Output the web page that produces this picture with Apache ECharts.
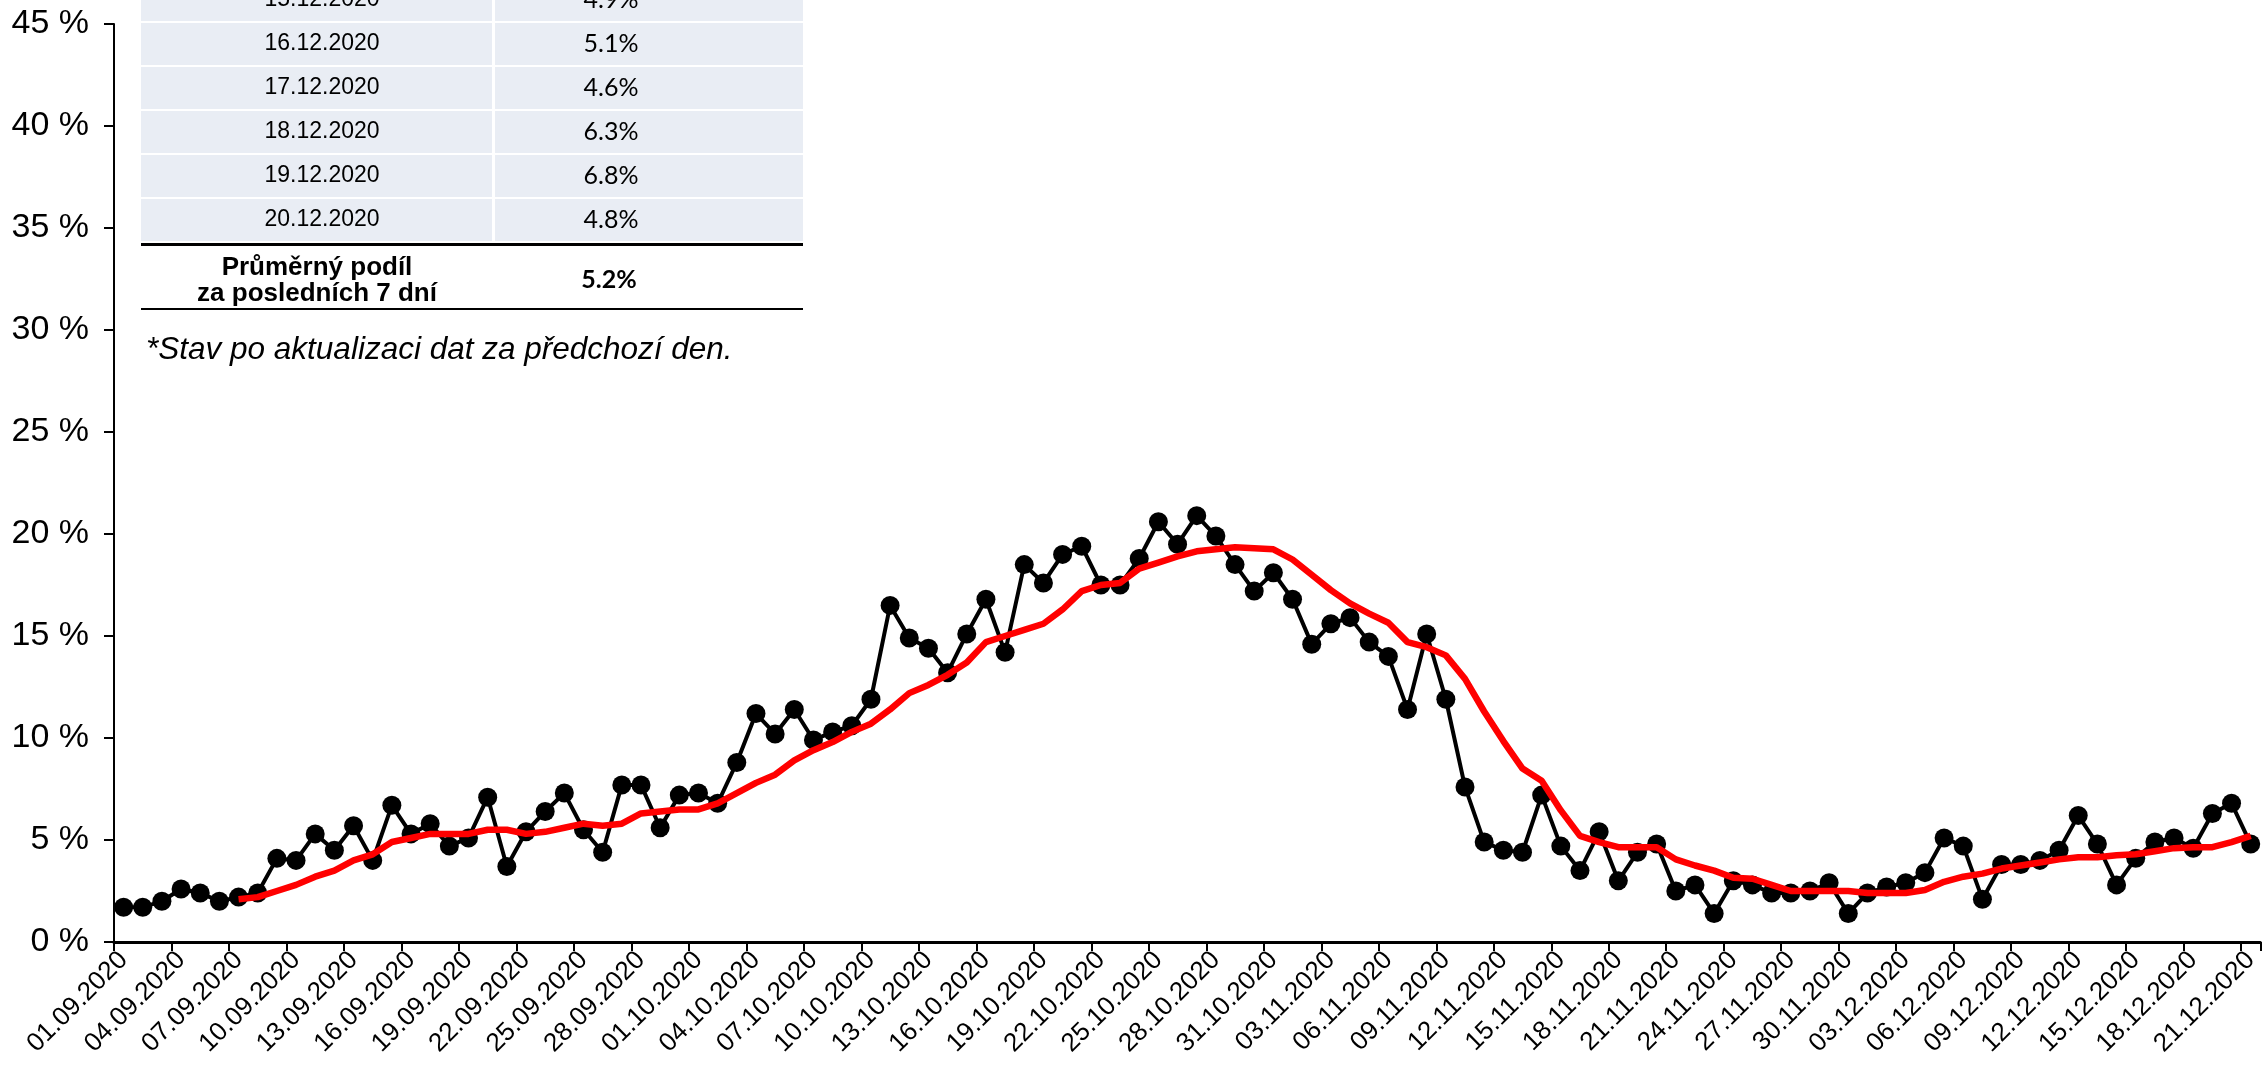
<!DOCTYPE html>
<html>
<head>
<meta charset="utf-8">
<script src="https://cdn.jsdelivr.net/npm/echarts@6/dist/echarts.min.js"></script>
<style>
html,body{margin:0;padding:0;background:#fff;}
#chart{width:2262px;height:1068px;}
</style>
</head>
<body>
<div id="chart"></div>
<script>
const categories = [
"01.09.2020","02.09.2020","03.09.2020","04.09.2020","05.09.2020","06.09.2020","07.09.2020","08.09.2020","09.09.2020","10.09.2020",
"11.09.2020","12.09.2020","13.09.2020","14.09.2020","15.09.2020","16.09.2020","17.09.2020","18.09.2020","19.09.2020","20.09.2020",
"21.09.2020","22.09.2020","23.09.2020","24.09.2020","25.09.2020","26.09.2020","27.09.2020","28.09.2020","29.09.2020","30.09.2020",
"01.10.2020","02.10.2020","03.10.2020","04.10.2020","05.10.2020","06.10.2020","07.10.2020","08.10.2020","09.10.2020","10.10.2020",
"11.10.2020","12.10.2020","13.10.2020","14.10.2020","15.10.2020","16.10.2020","17.10.2020","18.10.2020","19.10.2020","20.10.2020",
"21.10.2020","22.10.2020","23.10.2020","24.10.2020","25.10.2020","26.10.2020","27.10.2020","28.10.2020","29.10.2020","30.10.2020",
"31.10.2020","01.11.2020","02.11.2020","03.11.2020","04.11.2020","05.11.2020","06.11.2020","07.11.2020","08.11.2020","09.11.2020",
"10.11.2020","11.11.2020","12.11.2020","13.11.2020","14.11.2020","15.11.2020","16.11.2020","17.11.2020","18.11.2020","19.11.2020",
"20.11.2020","21.11.2020","22.11.2020","23.11.2020","24.11.2020","25.11.2020","26.11.2020","27.11.2020","28.11.2020","29.11.2020",
"30.11.2020","01.12.2020","02.12.2020","03.12.2020","04.12.2020","05.12.2020","06.12.2020","07.12.2020","08.12.2020","09.12.2020",
"10.12.2020","11.12.2020","12.12.2020","13.12.2020","14.12.2020","15.12.2020","16.12.2020","17.12.2020","18.12.2020","19.12.2020",
"20.12.2020","21.12.2020"
];

// daily share (%)
const dailyShare = [
1.7,1.7,2.0,2.6,2.4,2.0,2.2,2.4,4.1,4.0,
5.3,4.5,5.7,4.0,6.7,5.3,5.8,4.7,5.1,7.1,
3.7,5.4,6.4,7.3,5.5,4.4,7.7,7.7,5.6,7.2,
7.3,6.8,8.8,11.2,10.2,11.4,9.9,10.3,10.6,11.9,
16.5,14.9,14.4,13.2,15.1,16.8,14.2,18.5,17.6,19.0,
19.4,17.5,17.5,18.8,20.6,19.5,20.9,19.9,18.5,17.2,
18.1,16.8,14.6,15.6,15.9,14.7,14.0,11.4,15.1,11.9,
7.6,4.9,4.5,4.4,7.2,4.7,3.5,5.4,3.0,4.4,
4.8,2.5,2.8,1.4,3.0,2.8,2.4,2.4,2.5,2.9,
1.4,2.4,2.7,2.9,3.4,5.1,4.7,2.1,3.8,3.8,
4.0,4.5,6.2,4.8,2.8,4.1,4.9,5.1,4.6,6.3,
6.8,4.8
];

// 7-day average (%)
const avgShare = [
null,null,null,null,null,null,2.1,2.2,2.5,2.8,
3.2,3.5,4.0,4.3,4.9,5.1,5.3,5.3,5.3,5.5,
5.5,5.3,5.4,5.6,5.8,5.7,5.8,6.3,6.4,6.5,
6.5,6.8,7.3,7.8,8.2,8.9,9.4,9.8,10.3,10.7,
11.4,12.2,12.6,13.1,13.7,14.7,15.0,15.3,15.6,16.3,
17.2,17.5,17.6,18.3,18.6,18.9,19.15,19.25,19.35,19.3,
19.25,18.75,18.0,17.25,16.6,16.1,15.65,14.7,14.45,14.05,
12.9,11.3,9.85,8.5,7.9,6.45,5.2,4.9,4.65,4.65,
4.65,4.05,3.75,3.5,3.15,3.1,2.8,2.5,2.5,2.5,
2.5,2.4,2.4,2.4,2.55,2.95,3.2,3.35,3.6,3.75,
3.9,4.05,4.15,4.15,4.25,4.3,4.45,4.6,4.65,4.65,
4.9,5.2
];

const yTicks = [0,5,10,15,20,25,30,35,40,45];

const tableDates = ["15.12.2020","16.12.2020","17.12.2020","18.12.2020","19.12.2020","20.12.2020"];
const tableValues = ["4.9%","5.1%","4.6%","6.3%","6.8%","4.8%"];
const avgLabelLines = ["Průměrný podíl","za posledních 7 dní"];
const avgValue = "5.2%";
const noteText = "*Stav po aktualizaci dat za předchozí den.";

const chart = echarts.init(document.getElementById('chart'), null, {renderer:'canvas'});

// table graphic
const TL = 141, TR = 803, TD = 493, ROW0 = -21, RH = 44;
const VALX = 611;
const g = [];
tableDates.forEach((d, k) => {
  const top = ROW0 + RH * k;
  g.push({type:'rect', shape:{x:TL, y:top, width:TD-TL-1, height:RH-2}, style:{fill:'#E9EDF4'}, silent:true});
  g.push({type:'rect', shape:{x:TD+2, y:top, width:TR-TD-2, height:RH-2}, style:{fill:'#E9EDF4'}, silent:true});
  g.push({type:'text', x:(TL+TD)/2+5, y:top+RH/2-1, style:{text:d, fill:'#000', font:'23px "Liberation Sans", Arial, sans-serif', align:'center', verticalAlign:'middle'}, silent:true});
  g.push({type:'text', x:VALX, y:top+RH/2-1, style:{text:tableValues[k], fill:'#000', font:'25px Lato, "Open Sans", sans-serif', align:'center', verticalAlign:'middle'}, silent:true});
});
const lineY = ROW0 + RH * tableDates.length;
g.push({type:'rect', shape:{x:TL, y:lineY, width:TR-TL, height:3}, style:{fill:'#000'}, silent:true});
g.push({type:'rect', shape:{x:TL, y:308, width:TR-TL, height:2}, style:{fill:'#000'}, silent:true});
g.push({type:'text', x:(TL+TD)/2, y:268, style:{text:avgLabelLines[0], fill:'#000', font:'bold 26px "Liberation Sans", Arial, sans-serif', align:'center', verticalAlign:'middle'}, silent:true});
g.push({type:'text', x:(TL+TD)/2, y:294, style:{text:avgLabelLines[1], fill:'#000', font:'bold 26px "Liberation Sans", Arial, sans-serif', align:'center', verticalAlign:'middle'}, silent:true});
g.push({type:'text', x:VALX-2, y:280, style:{text:avgValue, fill:'#000', font:'bold 25px Lato, "Open Sans", sans-serif', align:'center', verticalAlign:'middle'}, silent:true});
g.push({type:'text', x:146, y:350, style:{text:noteText, fill:'#000', font:'italic 31.5px "Liberation Sans", Arial, sans-serif', align:'left', verticalAlign:'middle'}, silent:true});

const option = {
  animation: false,
  backgroundColor: '#fff',
  grid: {left:114, top:24, width:2152, height:918, containLabel:false},
  xAxis: {
    type:'category',
    data: categories,
    boundaryGap: true,
    axisLine: {show:true, lineStyle:{color:'#000', width:3}},
    axisTick: {show:true, interval:2, length:9, lineStyle:{color:'#000', width:2}},
    axisLabel: {interval:2, rotate:45, fontSize:26, color:'#000', fontFamily:'"Liberation Sans", Arial, sans-serif', margin:14},
    splitLine: {show:false}
  },
  yAxis: {
    type:'value',
    min: yTicks[0], max: yTicks[yTicks.length-1], interval: yTicks[1]-yTicks[0],
    axisLine: {show:true, lineStyle:{color:'#000', width:2}},
    axisTick: {show:true, length:10, lineStyle:{color:'#000', width:2}},
    axisLabel: {formatter:'{value} %', fontSize:34, color:'#000', fontFamily:'"Liberation Sans", Arial, sans-serif', margin:25},
    splitLine: {show:false}
  },
  series: [
    {
      name:'Denní podíl', type:'line', data: dailyShare,
      symbol:'circle', symbolSize:19, showAllSymbol:true,
      itemStyle:{color:'#000'}, lineStyle:{color:'#000', width:4}, z:2
    },
    {
      name:'Průměr 7 dní', type:'line', data: avgShare,
      symbol:'none', connectNulls:false,
      lineStyle:{color:'#FF0000', width:6.5}, z:3
    }
  ],
  graphic: {elements: g}
};
chart.setOption(option);
</script>
</body>
</html>
